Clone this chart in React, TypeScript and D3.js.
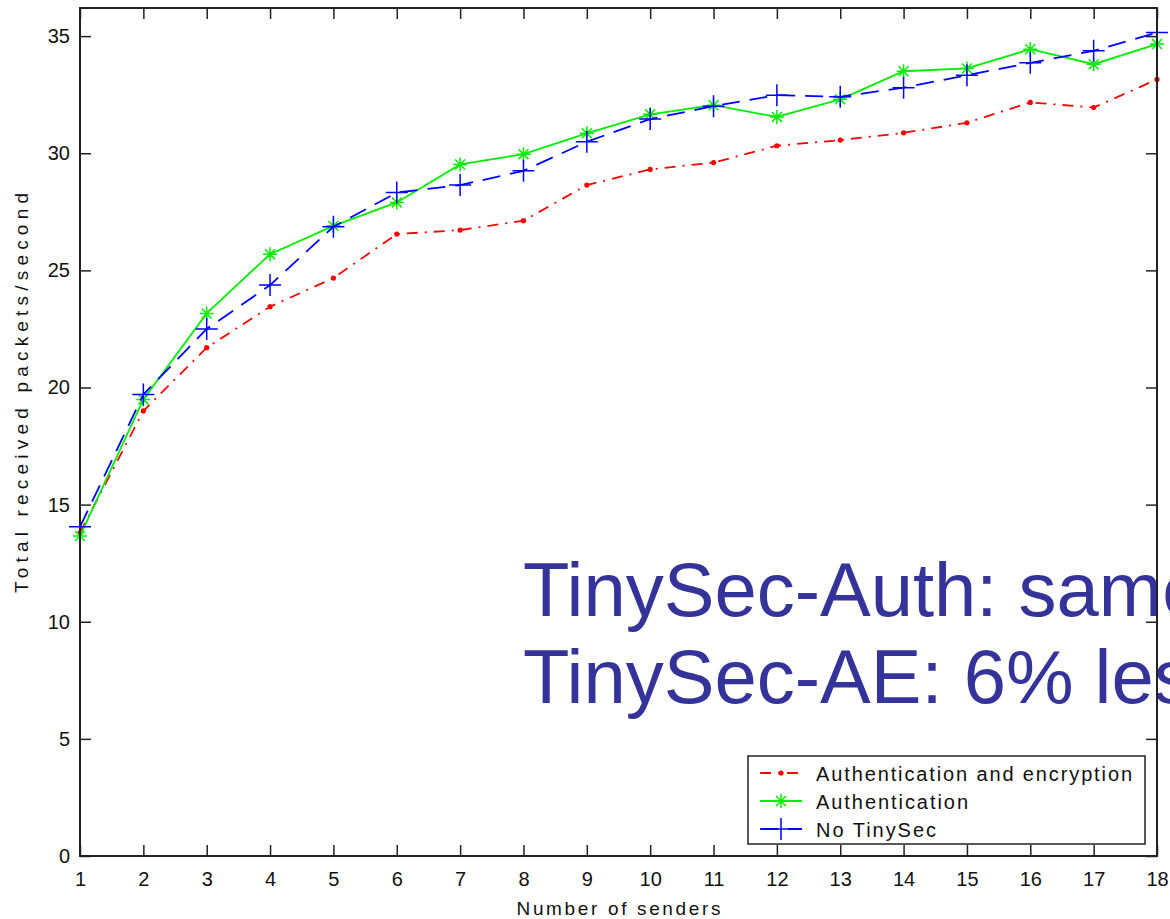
import { useRef, useEffect } from 'react';
import * as d3 from 'd3';

// dados
const senders = [1, 2, 3, 4, 5, 6, 7, 8, 9, 10, 11, 12, 13, 14, 15, 16, 17, 18];
const authEnc = [13.8, 19.0, 21.7, 23.45, 24.67, 26.55, 26.72, 27.12, 28.64, 29.31, 29.6, 30.32, 30.56, 30.87, 31.3, 32.17, 31.95, 33.15];
const auth = [13.66, 19.49, 23.16, 25.69, 26.9, 27.9, 29.52, 29.96, 30.85, 31.66, 32.05, 31.55, 32.3, 33.5, 33.62, 34.44, 33.8, 34.66];
const noTinySec = [14.05, 19.7, 22.5, 24.37, 26.86, 28.32, 28.64, 29.25, 30.49, 31.46, 32.01, 32.48, 32.41, 32.8, 33.33, 33.86, 34.37, 35.15];
const yTicks = [0, 5, 10, 15, 20, 25, 30, 35];
const legendLabels = ['Authentication and encryption', 'Authentication', 'No TinySec'];
const noteLines = ['TinySec-Auth: same', 'TinySec-AE: 6% les'];

const W = 1170;
const H = 919;
const margin = { top: 8, right: 13, bottom: 63, left: 80 };
const font = '"Liberation Sans", Arial, Helvetica, sans-serif';

const App = () => {
  const svgRef = useRef(null);

  useEffect(() => {
    const svg = d3.select(svgRef.current);
    svg.selectAll('*').remove();

    const x = d3.scaleLinear().domain([1, 18]).range([margin.left, W - margin.right]);
    const y = d3.scaleLinear().domain([0, 36.2]).range([H - margin.bottom, margin.top]);
    const [x0, x1] = x.range();
    const [y0, y1] = y.range();

    const series = [
      { name: legendLabels[0], values: authEnc, color: '#ff0000', dash: '11,7,2,7', marker: 'dot' },
      { name: legendLabels[1], values: auth, color: '#00ee00', dash: null, marker: 'star' },
      { name: legendLabels[2], values: noTinySec, color: '#0000ff', dash: '18,10', marker: 'plus' },
    ];

    svg.append('rect').attr('width', W).attr('height', H).attr('fill', 'white');

    // eixos
    const styleAxis = (g) => {
      g.select('.domain').remove();
      g.selectAll('.tick line').attr('stroke', '#222').attr('stroke-width', 1.5);
      g.selectAll('text').attr('fill', '#111').style('font-family', font).style('font-size', '20px');
    };

    svg.append('g').attr('transform', `translate(${x0},0)`)
      .call(d3.axisLeft(y).tickValues(yTicks).tickSizeInner(-11).tickSizeOuter(0).tickPadding(10))
      .call(styleAxis);
    svg.append('g').attr('transform', `translate(${x1},0)`)
      .call(d3.axisRight(y).tickValues(yTicks).tickSizeInner(-11).tickSizeOuter(0).tickFormat(() => ''))
      .call(styleAxis);
    svg.append('g').attr('transform', `translate(0,${y0})`)
      .call(d3.axisBottom(x).tickValues(senders).tickFormat(d3.format('d')).tickSizeInner(-11).tickSizeOuter(0).tickPadding(16))
      .call(styleAxis);
    svg.append('g').attr('transform', `translate(0,${y1})`)
      .call(d3.axisTop(x).tickValues(senders).tickSizeInner(-11).tickSizeOuter(0).tickFormat(() => ''))
      .call(styleAxis);

    // titulos dos eixos
    svg.append('text')
      .attr('x', (x0 + x1) / 2).attr('y', 915)
      .attr('text-anchor', 'middle')
      .attr('textLength', 204)
      .style('font-family', font).style('font-size', '19px').attr('fill', '#111')
      .text('Number of senders');
    svg.append('text')
      .attr('transform', 'translate(28,393) rotate(-90)')
      .attr('text-anchor', 'middle')
      .attr('textLength', 400)
      .style('font-family', font).style('font-size', '19px').attr('fill', '#111')
      .text('Total received packets/second');

    // marcadores
    const drawMarker = (g, kind, color, cx, cy) => {
      if (kind === 'dot') {
        g.append('circle').attr('cx', cx).attr('cy', cy).attr('r', 2.6).attr('fill', color);
      } else if (kind === 'star') {
        const r = 7;
        const p = d3.path();
        [0, 45, 90, 135].forEach((a) => {
          const t = (a * Math.PI) / 180;
          p.moveTo(cx - r * Math.cos(t), cy - r * Math.sin(t));
          p.lineTo(cx + r * Math.cos(t), cy + r * Math.sin(t));
        });
        g.append('path').attr('d', p.toString()).attr('stroke', color).attr('stroke-width', 1.5).attr('fill', 'none');
      } else {
        const r = 11;
        const p = d3.path();
        p.moveTo(cx - r, cy); p.lineTo(cx + r, cy);
        p.moveTo(cx, cy - r); p.lineTo(cx, cy + r);
        g.append('path').attr('d', p.toString()).attr('stroke', color).attr('stroke-width', 1.5).attr('fill', 'none');
      }
    };

    const line = d3.line().x((d, i) => x(senders[i])).y((d) => y(d));

    // linhas do grafico
    series.forEach((s) => {
      const g = svg.append('g');
      g.append('path')
        .attr('d', line(s.values))
        .attr('fill', 'none')
        .attr('stroke', s.color)
        .attr('stroke-width', 1.8)
        .attr('stroke-dasharray', s.dash);
      s.values.forEach((v, i) => drawMarker(g, s.marker, s.color, x(senders[i]), y(v)));
    });

    // texto sobreposto
    noteLines.forEach((t, i) => {
      svg.append('text')
        .attr('x', 523).attr('y', 616 + i * 87)
        .style('font-family', font).style('font-size', '76px')
        .attr('fill', '#333399')
        .text(t);
    });

    // moldura
    svg.append('rect')
      .attr('x', x0).attr('y', y1).attr('width', x1 - x0).attr('height', y0 - y1)
      .attr('fill', 'none').attr('stroke', '#222').attr('stroke-width', 2);

    // legenda
    const leg = svg.append('g').attr('transform', 'translate(748,756)');
    leg.append('rect').attr('width', 397).attr('height', 88)
      .attr('fill', 'white').attr('stroke', '#222').attr('stroke-width', 1.5);
    series.forEach((s, i) => {
      const cy = 17 + i * 28;
      leg.append('line')
        .attr('x1', 12).attr('x2', 54).attr('y1', cy).attr('y2', cy)
        .attr('stroke', s.color).attr('stroke-width', 1.8)
        .attr('stroke-dasharray', s.dash);
      drawMarker(leg, s.marker, s.color, 33, cy);
      leg.append('text')
        .attr('x', 68).attr('y', cy + 8)
        .attr('textLength', i === 0 ? 316 : i === 1 ? 152 : 120)
        .style('font-family', font).style('font-size', '20px').attr('fill', '#111')
        .text(s.name);
    });
  }, []);

  return (
    <div style={{ position: 'absolute', left: 0, top: 0 }}>
      <svg ref={svgRef} width={W} height={H} style={{ display: 'block' }}></svg>
    </div>
  );
};

export default App;
